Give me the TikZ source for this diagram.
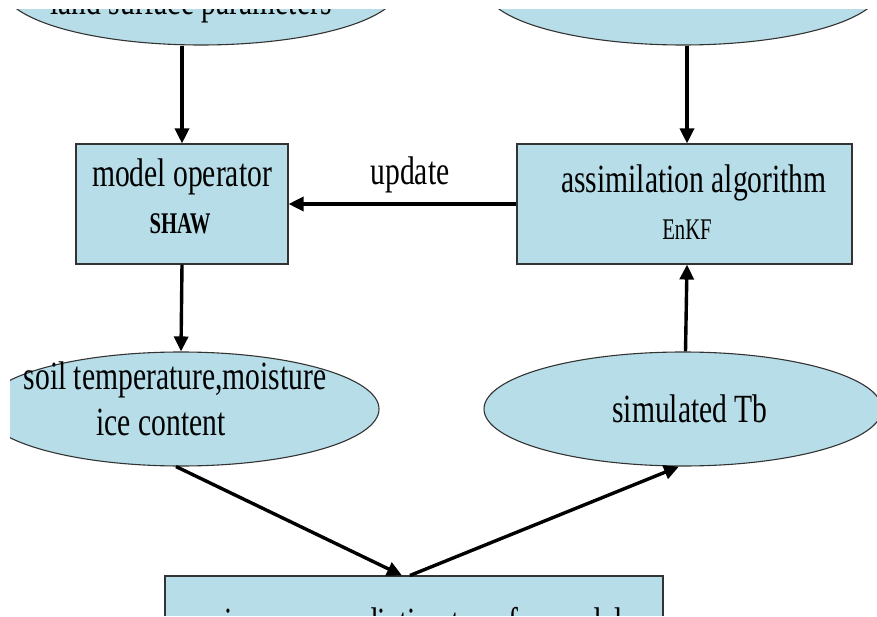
\documentclass[tikz,border=0pt]{standalone}
\usepackage{fontspec}
\setmainfont{Liberation Serif}
\newfontfamily\bigfont[FakeStretch=0.74]{Liberation Serif}
\newfontfamily\smallfont[FakeStretch=0.69]{Liberation Serif}
\usetikzlibrary{shapes.geometric,arrows.meta}
\definecolor{boxfill}{HTML}{B7DEE8}
\definecolor{edge}{HTML}{333333}

\begin{document}
\begin{tikzpicture}[x=1pt,y=-1pt,
  blob/.style={ellipse,draw=edge,line width=1.1pt,fill=boxfill,
    minimum width=396pt,minimum height=114pt,inner sep=0pt},
  block/.style={rectangle,draw=edge,line width=1.1pt,fill=boxfill,inner sep=0pt},
  bigtxt/.style={anchor=base,inner sep=0pt,font=\bigfont\fontsize{40}{44}\selectfont},
  smalltxt/.style={anchor=base,inner sep=0pt,font=\smallfont\fontsize{30}{32}\selectfont},
  flow/.style={line width=3.4pt,-{Triangle[length=15pt,width=14pt]}}]
\useasboundingbox (0,0) rectangle (877,617);
\begin{scope}
\clip (10,10) rectangle (877,615);

% input ellipses at the top
\node[blob] (land) at (201,-12) {};
\node[bigtxt] (landT) at (191,15) {land surface parameters};
\node[blob] (obs) at (683,-12) {};

% operator and assimilation boxes
\node[block,minimum width=212pt,minimum height=120pt] (model) at (182,204) {};
\node[bigtxt] (modelT) at (182,187) {model operator};
\node[smalltxt,font=\smallfont\bfseries\fontsize{30}{32}\selectfont] (shaw) at (180,234) {SHAW};

\node[block,minimum width=335pt,minimum height=120pt] (assim) at (684.5,204) {};
\node[bigtxt] (assimT) at (694,193) {assimilation algorithm};
\node[smalltxt] (enkf) at (687,240) {EnKF};

% state and simulated brightness temperature
\node[blob] (soil) at (181,409) {};
\node[bigtxt] (soilA) at (175,389) {soil temperature,moisture};
\node[bigtxt] (soilB) at (161,435) {ice content};

\node[blob,minimum width=398pt] (sim) at (683,409) {};
\node[bigtxt] (simT) at (690,422) {simulated Tb};

% radiative transfer model box
\node[block,minimum width=498pt,minimum height=100pt] (rtm) at (414,626) {};
\node[bigtxt] (rtmT) at (412,635) {microwave radiative transfer model};

% connectors
\draw[flow] (model.north |- land.south) -- (model.north);
\draw[flow] ([xshift=2.5pt]assim.north |- obs.south) -- ([xshift=2.5pt]assim.north);
\draw[flow] (assim.west) -- (model.east);
\node[bigtxt] (upd) at (410,185) {update};
\draw[flow] (model.south) -- (soil.north);
\draw[flow] ([xshift=2.5pt]sim.north) -- ([xshift=2.5pt]assim.south);
\draw[flow] ([xshift=-5pt]soil.south) -- ([xshift=-12pt]rtm.north);
\draw[flow] ([xshift=-4pt]rtm.north) -- ([xshift=-4pt]sim.south);
\end{scope}
\end{tikzpicture}
\end{document}
